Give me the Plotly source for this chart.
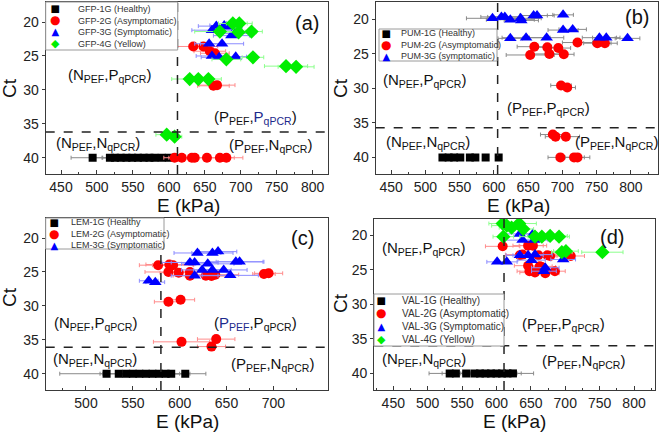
import plotly.graph_objects as go

W, H = 661, 433
FONT = "Liberation Sans, Arial, sans-serif"

# ---------------- Panel (a) GFP ----------------
gfp_names = ["GFP-1G (Healthy)", "GFP-2G (Asymptomatic)", "GFP-3G (Symptomatic)", "GFP-4G (Yellow)"]
gfp1_x = [494, 518, 525, 533, 541, 549, 557, 565, 573, 580, 590, 600]
gfp1_y = [40, 40, 40, 40, 40, 40, 40, 40, 40, 40, 40, 40]
gfp1_e = [30, 20, 18, 25, 15, 20, 18, 22, 15, 20, 18, 15]
gfp2_x = [634, 648, 657, 664, 662, 667, 608, 618, 632, 636, 653, 671, 680]
gfp2_y = [23.6, 23.6, 24.3, 24.6, 29.4, 29.3, 40, 40, 40, 40, 40, 40, 40]
gfp2_e = [28, 20, 22, 20, 22, 25, 15, 18, 20, 15, 18, 20, 23]
gfp3_x = [666, 677, 680, 660, 687, 692, 656, 674, 660, 670, 693]
gfp3_y = [20.6, 20.5, 20.7, 21.2, 22.0, 21.7, 23.2, 23.2, 25.0, 25.2, 25.1]
gfp3_e = [25, 20, 22, 28, 25, 22, 20, 30, 22, 25, 15]
gfp4_x = [689, 698, 671, 697, 715, 680, 717, 763, 777, 629, 641, 655, 597, 608]
gfp4_y = [20.2, 20.2, 21.4, 21.5, 21.4, 25.5, 25.2, 26.5, 26.6, 28.4, 28.4, 28.4, 36.6, 36.9]
gfp4_e = [20, 18, 35, 25, 15, 20, 15, 30, 25, 25, 15, 18, 15, 10]

# ---------------- Panel (b) PUM ----------------
pum_names = ["PUM-1G (Healthy)", "PUM-2G (Asymptomatic)", "PUM-3G (symptomatic)"]
pum1_x = [525, 534, 542, 551, 565, 573, 588, 607]
pum1_y = [40, 40, 40, 40, 40, 40, 40, 40]
pum2_x = [659, 678, 694, 722, 751, 762, 653, 681, 702, 698, 707, 686, 690, 705, 697, 717, 722]
pum2_y = [24.0, 24.1, 24.2, 23.4, 23.5, 23.5, 25.2, 25.05, 25.1, 29.6, 29.9, 36.7, 37.0, 37.0, 40, 40, 40]
pum2_e = [25, 20, 18, 22, 20, 18, 35, 25, 15, 15, 12, 18, 15, 20, 18, 15, 18]
pum3_x = [598, 611, 616, 624, 639, 640, 658, 663, 701, 701, 715, 624, 647, 677, 754, 764, 795]
pum3_y = [19.9, 19.7, 19.7, 20.1, 19.9, 20.2, 19.5, 19.5, 19.4, 21.6, 21.5, 22.8, 22.7, 22.7, 22.7, 22.7, 22.8]
pum3_e = [38, 30, 25, 35, 30, 25, 20, 25, 15, 22, 20, 18, 35, 25, 25, 20, 18]

# ---------------- Panel (c) LEM ----------------
lem_names = ["LEM-1G (Healthy", "LEM-2G (Asymptomatic)", "LEM-3G (Symptomatic)"]
lem1_x = [522, 535, 543, 550, 557, 564, 571, 578, 585, 591, 606]
lem1_y = [40, 40, 40, 40, 40, 40, 40, 40, 40, 40, 40]
lem1_e = [50, 20, 25, 15, 20, 15, 20, 25, 15, 20, 22]
lem2_x = [577, 589, 593, 588, 599, 611, 611, 628, 634, 638, 690, 695, 588, 601, 602, 639, 634]
lem2_y = [24.0, 23.9, 24.0, 25.0, 25.1, 25.0, 25.55, 25.55, 25.6, 25.4, 25.3, 25.2, 29.4, 29.1, 35.3, 34.9, 36.0]
lem2_e = [20, 25, 22, 25, 20, 25, 18, 22, 20, 25, 12, 15, 15, 15, 30, 20, 15]
lem3_x = [619, 635, 641, 611, 616, 630, 660, 664, 624, 635, 647, 616, 654, 567, 574]
lem3_y = [22.2, 22.2, 22.0, 23.6, 23.6, 23.8, 23.5, 23.5, 24.7, 24.7, 24.7, 25.55, 25.5, 26.3, 26.5]
lem3_e = [25, 22, 20, 30, 25, 28, 30, 25, 22, 20, 25, 25, 30, 10, 10]

# ---------------- Panel (d) VAL ----------------
val_names = ["VAL-1G (Healthy)", "VAL-2G (Asymptomatic)", "VAL-3G (Symptomatic)", "VAL-4G (Yellow)"]
val1_x = [532, 541, 556, 568, 576, 584, 592, 600, 608, 616, 624]
val1_y = [40, 40, 40, 40, 40, 40, 40, 40, 40, 40, 40]
val1_e = [30, 20, 15, 20, 25, 15, 20, 18, 22, 20, 30]
val2_x = [609, 646, 653, 634, 638, 661, 674, 678, 708, 646, 663, 666, 648, 656, 671, 685]
val2_y = [21.6, 21.5, 21.5, 22.9, 22.8, 22.9, 22.9, 23.0, 23.0, 24.4, 24.5, 24.6, 25.2, 25.4, 25.5, 25.2]
val2_e = [25, 22, 20, 20, 25, 25, 20, 22, 20, 20, 18, 20, 18, 22, 20, 15]
val3_x = [634, 653, 638, 655, 634, 646, 656, 651, 697, 601, 615, 671, 669]
val3_y = [19.8, 19.8, 20.7, 20.7, 22.9, 22.9, 22.8, 23.6, 23.5, 23.85, 23.85, 24.7, 25.2]
val3_e = [25, 22, 25, 20, 20, 22, 25, 20, 18, 15, 15, 20, 18]
val4_x = [609, 615, 622, 633, 639, 610, 656, 666, 678, 691, 695, 701, 754]
val4_y = [18.3, 18.6, 18.9, 18.3, 19.1, 20.2, 20.2, 20.2, 20.1, 20.2, 22.45, 22.3, 22.45]
val4_e = [20, 22, 18, 25, 15, 15, 22, 20, 25, 15, 15, 18, 30]

# ---------------- thresholds / axes ----------------
vlines = [612, 605.5, 580, 611]
hlines = [36.2, 35.7, 36.1, 36.0]
x_ranges = [[428.7, 821.8], [427.6, 839.9], [457, 758.7], [422.4, 830.5]]
y_ranges = [[42.4, 17.0], [42.4, 17.5], [42.4, 17.0], [42.4, 17.6]]
x_ticks_abd = [450, 500, 550, 600, 650, 700, 750, 800]
x_ticks_c = [500, 550, 600, 650, 700]
x_minor_abd = [425, 475, 525, 575, 625, 675, 725, 775, 825]
x_minor_c = [475, 525, 575, 625, 675, 725]
y_ticks = [20, 25, 30, 35, 40]
panel_letters = ["(a)", "(b)", "(c)", "(d)"]
x_ticks = [x_ticks_abd, x_ticks_abd, x_ticks_c, x_ticks_abd]
x_minor = [x_minor_abd, x_minor_abd, x_minor_c, x_minor_abd]

# pixel boxes of plot areas (left, top, right, bottom)
boxes = [(45.7, 1.7, 328.3, 174), (375.7, 1.7, 658.3, 174),
         (45.7, 217.7, 328.3, 390), (374.3, 218.7, 655, 390)]


def px(x):
    return x / W


def py(y):
    return 1 - y / H


MK = {
    "square": dict(symbol="square", color="#000000", size=8, glyph="■", gsize=10),
    "circle": dict(symbol="circle", color="#ff0000", size=10, glyph="●", gsize=12),
    "triangle": dict(symbol="triangle-up", color="#0000ff", size=11, glyph="▲", gsize=10),
    "diamond": dict(symbol="diamond", color="#00ee00", size=11, glyph="◆", gsize=11),
}
ERRC = {"square": "#8a8a8a", "circle": "#ff8c8c", "triangle": "#8c8cff", "diamond": "#8cff8c"}

fig = go.Figure()


def add(x, y, err, name, kind, idx, errcolor=None):
    ax = "" if idx == 0 else str(idx + 1)
    m = MK[kind]
    ex = None
    if err is not None:
        ex = dict(type="data", array=err, color=errcolor or ERRC[kind], thickness=1, width=2)
    fig.add_trace(go.Scatter(
        x=x, y=y, mode="markers", name=name, showlegend=False,
        marker=dict(symbol=m["symbol"], color=m["color"], size=m["size"], line=dict(width=0)),
        error_x=ex, xaxis="x" + ax, yaxis="y" + ax, hoverinfo="x+y+name"))


add(gfp1_x, gfp1_y, gfp1_e, gfp_names[0], "square", 0)
add(gfp2_x, gfp2_y, gfp2_e, gfp_names[1], "circle", 0)
add(gfp3_x, gfp3_y, gfp3_e, gfp_names[2], "triangle", 0)
add(gfp4_x, gfp4_y, gfp4_e, gfp_names[3], "diamond", 0)

add(pum1_x, pum1_y, None, pum_names[0], "square", 1)
add(pum2_x, pum2_y, pum2_e, pum_names[1], "circle", 1, "#8a8a8a")
add(pum3_x, pum3_y, pum3_e, pum_names[2], "triangle", 1, "#8a8a8a")

add(lem1_x, lem1_y, lem1_e, lem_names[0], "square", 2)
add(lem2_x, lem2_y, lem2_e, lem_names[1], "circle", 2)
add(lem3_x, lem3_y, lem3_e, lem_names[2], "triangle", 2)

add(val1_x, val1_y, val1_e, val_names[0], "square", 3)
add(val2_x, val2_y, val2_e, val_names[1], "circle", 3)
add(val3_x, val3_y, val3_e, val_names[2], "triangle", 3)
add(val4_x, val4_y, val4_e, val_names[3], "diamond", 3)

layout = dict(width=W, height=H, margin=dict(l=0, r=0, t=0, b=0),
              paper_bgcolor="white", plot_bgcolor="white", showlegend=False)

shapes = []
annotations = []

for i in range(4):
    ax = "" if i == 0 else str(i + 1)
    l, t, r, b = boxes[i]
    common = dict(showline=True, mirror=True, linecolor="#3a3a3a", linewidth=1.3,
                  tickwidth=1, tickcolor="#3a3a3a",
                  tickfont=dict(size=14, color="#222", family=FONT),
                  showgrid=False, zeroline=False, automargin=False)
    layout["xaxis" + ax] = dict(domain=[px(l), px(r)], anchor="y" + ax, range=x_ranges[i],
                                tickmode="array", tickvals=x_ticks[i], ticks="inside", ticklen=4,
                                minor=dict(ticks="inside", ticklen=2, tickmode="array",
                                           tickvals=x_minor[i], tickcolor="#3a3a3a"),
                                **common)
    layout["yaxis" + ax] = dict(domain=[py(b), py(t)], anchor="x" + ax, range=y_ranges[i],
                                tickmode="array", tickvals=y_ticks, ticks="outside", ticklen=3,
                                **common)
    shapes.append(dict(type="line", xref="x" + ax, yref="y" + ax + " domain",
                       x0=vlines[i], x1=vlines[i], y0=0, y1=1,
                       line=dict(color="#222", width=1.5, dash="dash")))
    shapes.append(dict(type="line", xref="x" + ax + " domain", yref="y" + ax,
                       x0=0, x1=1, y0=hlines[i], y1=hlines[i],
                       line=dict(color="#222", width=1.5, dash="dash")))

# axis titles
e_pos = [(188, 205.5), (518, 205.5), (187, 421), (514, 421)]
ct_pos = [(9, 88), (340, 88), (9, 297), (340, 303)]
for (ex_, ey_), (cx_, cy_) in zip(e_pos, ct_pos):
    annotations.append(dict(text="E (kPa)", x=px(ex_), y=py(ey_), xref="paper", yref="paper",
                            showarrow=False, xanchor="center", yanchor="middle",
                            font=dict(size=19, color="#111", family=FONT)))
    annotations.append(dict(text="Ct", x=px(cx_), y=py(cy_), xref="paper", yref="paper",
                            showarrow=False, xanchor="center", yanchor="middle", textangle=-90,
                            font=dict(size=19, color="#111", family=FONT)))

# panel letters
letter_pos = [(306.5, 23), (636.5, 17), (302.5, 238), (611.5, 237)]
for txt, (lx, ly) in zip(panel_letters, letter_pos):
    annotations.append(dict(text=txt, x=px(lx), y=py(ly), xref="paper", yref="paper",
                            showarrow=False, xanchor="center", yanchor="middle",
                            font=dict(size=20, color="#111", family=FONT)))

# quadrant labels
NP = "(N<sub>PEF</sub>,P<sub>qPCR</sub>)"
NN = "(N<sub>PEF</sub>,N<sub>qPCR</sub>)"
PN = "(P<sub>PEF</sub>,N<sub>qPCR</sub>)"
PP_a = "(P<sub>PEF</sub>,<span style='color:#1c2a8c'>P<sub>qPCR</sub></span>)"
PP_c = "(<span style='color:#1c2a8c'>P<sub>PEF</sub></span>,P<sub>qPCR</sub>)"
PP = "(P<sub>PEF</sub>,P<sub>qPCR</sub>)"
quad = [
    [(NP, 110, 76), (PP_a, 255, 117), (NN, 97.5, 143), (PN, 270.5, 145)],
    [(NP, 425, 80), (PP, 548.5, 108), (NN, 427.5, 142), (PN, 616.5, 142)],
    [(NP, 95.5, 323), (PP_c, 255.5, 323), (NN, 95, 359), (PN, 272.5, 364)],
    [(NP, 423.5, 248), (PP, 563.5, 324), (NN, 423.5, 359), (PN, 583.5, 361)],
]
for panel in quad:
    for txt, qx, qy in panel:
        annotations.append(dict(text=txt, x=px(qx), y=py(qy), xref="paper", yref="paper",
                                showarrow=False, xanchor="center", yanchor="middle",
                                font=dict(size=15, color="#111", family=FONT)))

# legends (box + one symbol-column annotation + one text-column annotation)
legend_specs = [
    (gfp_names, ["square", "circle", "triangle", "diamond"], (45.7, 2, 177.7, 50), 55, 76, 9),
    (pum_names, ["square", "circle", "triangle"], (379, 29, 497, 61), 386, 399, 9),
    (lem_names, ["square", "circle", "triangle"], (45.7, 218, 164, 249), 53.5, 69, 9),
    (val_names, ["square", "circle", "triangle", "diamond"], (374, 294, 504, 346), 381, 400, 10),
]
for names, kinds, (bl, bt, br, bb), sx, tx, fs in legend_specs:
    shapes.append(dict(type="rect", xref="paper", yref="paper",
                       x0=px(bl), x1=px(br), y0=py(bb), y1=py(bt),
                       fillcolor="white", line=dict(color="#9a9a9a", width=1), layer="above"))
    cy = (bt + bb) / 2
    glyphs = "<br>".join(
        "<span style='color:%s;font-size:%gpx'>%s</span>" % (MK[k]["color"], MK[k]["gsize"], MK[k]["glyph"])
        for k in kinds)
    annotations.append(dict(text=glyphs, x=px(sx), y=py(cy), xref="paper", yref="paper",
                            showarrow=False, xanchor="center", yanchor="middle", align="center",
                            font=dict(size=fs, color="#000", family="DejaVu Sans")))
    annotations.append(dict(text="<br>".join(names), x=px(tx), y=py(cy), xref="paper", yref="paper",
                            showarrow=False, xanchor="left", yanchor="middle", align="left",
                            font=dict(size=fs, color="#333", family=FONT)))

layout["shapes"] = shapes
layout["annotations"] = annotations
fig.update_layout(**layout)
fig.write_html("out.html")
